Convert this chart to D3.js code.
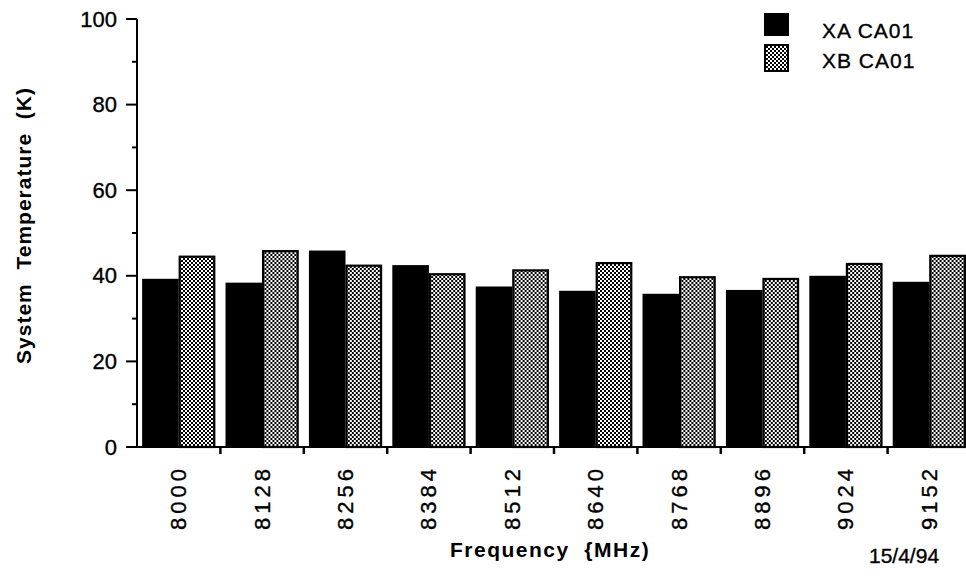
<!DOCTYPE html>
<html>
<head>
<meta charset="utf-8">
<script src="https://cdn.jsdelivr.net/npm/d3@7"></script>
<style>
  html, body { margin: 0; padding: 0; background: #fff; }
  svg { display: block; }
  text { font-family: "Liberation Sans", Arial, Helvetica, sans-serif; fill: #000; }
  text.reg { stroke: #000; stroke-width: 0.35px; }
</style>
</head>
<body>
<svg id="chart" width="966" height="578"></svg>
<script>
// Channel frequencies (MHz)
const frequencies = ["8000", "8128", "8256", "8384", "8512", "8640", "8768", "8896", "9024", "9152"];
// Series names
const seriesNames = ["XA CA01", "XB CA01"];
// System temperature (K) per channel
const xaValues = [39.3, 38.4, 45.9, 42.5, 37.5, 36.5, 35.8, 36.7, 40.0, 38.6];
const xbValues = [44.7, 46.0, 42.6, 40.6, 41.5, 43.2, 39.9, 39.5, 43.0, 44.9];
// Y axis ticks
const yMajorTicks = [0, 20, 40, 60, 80, 100];
const yMinorTicks = [10, 30, 50, 70, 90];
const dateLabel = "15/4/94";

const svg = d3.select("#chart");
const plot = { left: 137, right: 971, top: 19, bottom: 447 };

// Fine checkerboard dither used for the second series
const defs = svg.append("defs");
const pat = defs.append("pattern")
  .attr("id", "dither")
  .attr("patternUnits", "userSpaceOnUse")
  .attr("width", 4).attr("height", 4);
pat.append("rect").attr("width", 4).attr("height", 4).attr("fill", "#fff");
pat.append("rect").attr("x", 0).attr("y", 0).attr("width", 2).attr("height", 2).attr("fill", "#000");
pat.append("rect").attr("x", 2).attr("y", 2).attr("width", 2).attr("height", 2).attr("fill", "#000");

const x0 = d3.scaleBand().domain(frequencies).range([plot.left, plot.right]).padding(0);
const x1 = d3.scaleBand().domain(seriesNames).range([0, x0.bandwidth()])
  .paddingInner(0).paddingOuter(0.14);
const y = d3.scaleLinear().domain([0, 100]).range([plot.bottom, plot.top]);

const rows = frequencies.map((f, i) => ({ f, vals: [xaValues[i], xbValues[i]] }));

// Bars
const groups = svg.append("g").selectAll("g").data(rows).join("g")
  .attr("transform", d => `translate(${x0(d.f)},0)`);

groups.append("rect")
  .attr("x", x1(seriesNames[0]))
  .attr("y", d => y(d.vals[0]))
  .attr("width", x1.bandwidth())
  .attr("height", d => y(0) - y(d.vals[0]))
  .attr("fill", "#000");

groups.append("rect")
  .attr("x", x1(seriesNames[1]) + 1)
  .attr("y", d => y(d.vals[1]) + 1)
  .attr("width", x1.bandwidth() - 2)
  .attr("height", d => y(0) - y(d.vals[1]) - 1)
  .attr("fill", "url(#dither)")
  .attr("stroke", "#000")
  .attr("stroke-width", 2.2);

// Y axis
const yAxis = svg.append("g").attr("transform", `translate(${plot.left},0)`);
yAxis.append("line")
  .attr("x1", 0).attr("x2", 0).attr("y1", y(100)).attr("y2", y(0) + 1)
  .attr("stroke", "#000").attr("stroke-width", 2);
yAxis.selectAll("line.major").data(yMajorTicks).join("line")
  .attr("class", "major")
  .attr("x1", -11).attr("x2", 0)
  .attr("y1", d => y(d)).attr("y2", d => y(d))
  .attr("stroke", "#000").attr("stroke-width", 2);
yAxis.selectAll("line.minor").data(yMinorTicks).join("line")
  .attr("class", "minor")
  .attr("x1", -5).attr("x2", 0)
  .attr("y1", d => y(d)).attr("y2", d => y(d))
  .attr("stroke", "#000").attr("stroke-width", 2);
yAxis.selectAll("text").data(yMajorTicks).join("text")
  .attr("class", "reg")
  .attr("x", -20).attr("y", d => y(d))
  .attr("text-anchor", "end")
  .attr("dominant-baseline", "central")
  .style("font-size", "22px")
  .text(d => d);

// X axis
const xAxis = svg.append("g");
xAxis.append("line")
  .attr("x1", plot.left - 1).attr("x2", plot.right)
  .attr("y1", y(0)).attr("y2", y(0))
  .attr("stroke", "#000").attr("stroke-width", 2);
const boundaries = frequencies.map(f => x0(f) + x0.bandwidth());
xAxis.selectAll("line.tick").data(boundaries).join("line")
  .attr("class", "tick")
  .attr("x1", d => d).attr("x2", d => d)
  .attr("y1", y(0)).attr("y2", y(0) + 7)
  .attr("stroke", "#000").attr("stroke-width", 2.5);
xAxis.selectAll("text").data(frequencies).join("text")
  .attr("class", "reg")
  .attr("transform", d => `translate(${x0(d) + x0.bandwidth() / 2},465) rotate(-90)`)
  .attr("text-anchor", "end")
  .attr("dominant-baseline", "central")
  .style("font-size", "22px")
  .style("letter-spacing", "4px")
  .text(d => d);

// Axis titles
svg.append("text")
  .attr("transform", `translate(23,${(85 + 366) / 2}) rotate(-90)`)
  .attr("text-anchor", "middle")
  .attr("dominant-baseline", "central")
  .style("font-size", "21px").style("font-weight", "bold")
  .style("letter-spacing", "1px")
  .style("white-space", "pre")
  .text("System  Temperature  (K)");

svg.append("text")
  .attr("x", 450).attr("y", 557)
  .style("font-size", "21px").style("font-weight", "bold")
  .style("letter-spacing", "1.5px")
  .style("white-space", "pre")
  .text("Frequency  {MHz)");

svg.append("text")
  .attr("class", "reg")
  .attr("x", 869).attr("y", 563)
  .style("font-size", "21px")
  .text(dateLabel);

// Legend
const legend = svg.append("g");
legend.append("rect")
  .attr("x", 764).attr("y", 13).attr("width", 25).attr("height", 23)
  .attr("fill", "#000");
legend.append("rect")
  .attr("x", 765).attr("y", 45).attr("width", 23).attr("height", 26)
  .attr("fill", "url(#dither)").attr("stroke", "#000").attr("stroke-width", 2);
legend.selectAll("text").data(seriesNames).join("text")
  .attr("class", "reg")
  .attr("x", 822).attr("y", (d, i) => 38 + i * 30)
  .style("font-size", "21px")
  .style("letter-spacing", "1px")
  .text(d => d);
</script>
</body>
</html>
